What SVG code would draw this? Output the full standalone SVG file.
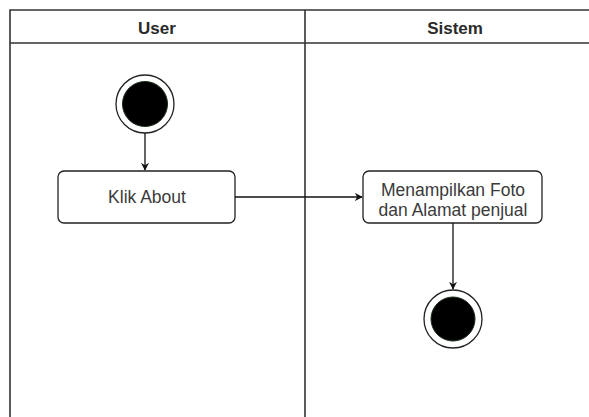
<svg xmlns="http://www.w3.org/2000/svg" width="589" height="417" viewBox="0 0 589 417">
  <style>
    .lane { fill: none; stroke: #333; stroke-width: 1.6; }
    .head { font-family: "Liberation Sans", Arial, sans-serif; font-size: 17px; font-weight: bold; fill: #2a2a2a; text-anchor: middle; }
    .box { fill: #fff; stroke: #222; stroke-width: 1.3; }
    .label { font-family: "Liberation Sans", Arial, sans-serif; font-size: 17.5px; fill: #3a3a3a; text-anchor: middle; }
    .ring { fill: #fff; stroke: #222; stroke-width: 1.3; }
    .dot { fill: #000; stroke: #1a2a1a; stroke-width: 1; }
    .edge { fill: none; stroke: #111; stroke-width: 1.3; }
  </style>
  <defs>
    <marker id="arrow" viewBox="0 0 10 10" refX="9" refY="5" markerWidth="8" markerHeight="8" orient="auto" markerUnits="userSpaceOnUse">
      <path d="M0,0 L10,5 L0,10 L3,5 Z" fill="#111"/>
    </marker>
  </defs>
  <rect width="589" height="417" fill="#fff"/>

  <!-- swimlanes -->
  <g id="lanes">
    <path class="lane" d="M10,417 V10 H589 M10,43 H589 M305,10 V417"/>
    <text class="head" x="157" y="33.5">User</text>
    <text class="head" x="455" y="33.5">Sistem</text>
  </g>

  <g id="start">
    <circle class="ring" cx="145" cy="104" r="29"/>
    <circle class="dot" cx="145" cy="104" r="22.5"/>
  </g>

  <g id="klik-about">
    <rect class="box" x="58" y="171" width="177" height="52" rx="6"/>
    <text class="label" x="147" y="203">Klik About</text>
  </g>

  <g id="tampil-foto">
    <rect class="box" x="363" y="171" width="179" height="52" rx="6"/>
    <text class="label" x="453" y="195.5">Menampilkan Foto</text>
    <text class="label" x="453" y="216">dan Alamat penjual</text>
  </g>

  <g id="end">
    <circle class="ring" cx="453" cy="319" r="29"/>
    <circle class="dot" cx="453" cy="319" r="22"/>
  </g>

  <g id="connectors">
    <path class="edge" d="M145,133 V170" marker-end="url(#arrow)"/>
    <path class="edge" d="M235,197 H362" marker-end="url(#arrow)"/>
    <path class="edge" d="M453,223 V289" marker-end="url(#arrow)"/>
  </g>
</svg>
